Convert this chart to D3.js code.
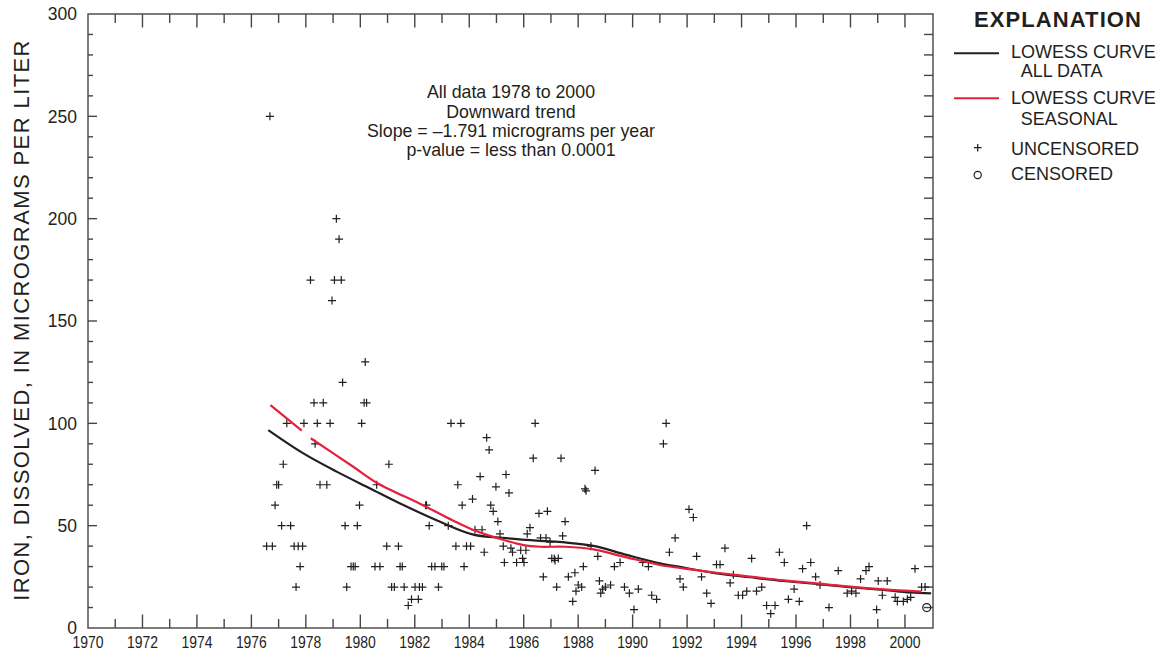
<!DOCTYPE html>
<html>
<head>
<meta charset="utf-8">
<script src="https://cdn.jsdelivr.net/npm/d3@7"></script>
<style>
  html, body { margin: 0; padding: 0; background: #fff; }
  svg { display: block; font-family: "Liberation Sans", Arial, Helvetica, sans-serif; }
</style>
</head>
<body>
<svg id="chart" width="1171" height="653"></svg>
<script>
// ---------------- DATA ----------------
const obsYears = [
  1976.56,1976.68,1976.77,1976.87,1976.93,1977.00,1977.11,1977.17,1977.30,1977.44,
  1977.57,1977.64,1977.72,1977.79,1977.88,1977.93,1978.17,1978.30,1978.34,1978.42,
  1978.52,1978.64,1978.77,1978.89,1978.96,1979.05,1979.12,1979.22,1979.30,1979.35,
  1979.44,1979.50,1979.66,1979.74,1979.81,1979.89,1979.97,1980.05,1980.14,1980.18,
  1980.23,1980.54,1980.60,1980.72,1980.97,1981.05,1981.15,1981.25,1981.40,1981.46,
  1981.54,1981.61,1981.76,1981.88,1982.01,1982.13,1982.17,1982.28,1982.40,1982.43,
  1982.53,1982.62,1982.74,1982.87,1982.99,1983.07,1983.23,1983.33,1983.51,1983.58,
  1983.69,1983.74,1983.81,1983.90,1984.05,1984.12,1984.21,1984.40,1984.47,1984.55,
  1984.64,1984.73,1984.79,1984.88,1984.98,1985.05,1985.13,1985.25,1985.29,1985.35,
  1985.46,1985.53,1985.59,1985.74,1985.89,1985.96,1986.01,1986.08,1986.13,1986.23,
  1986.35,1986.42,1986.56,1986.62,1986.72,1986.82,1986.87,1986.97,1987.03,1987.12,
  1987.15,1987.21,1987.27,1987.37,1987.43,1987.52,1987.64,1987.80,1987.88,1987.92,
  1988.00,1988.13,1988.19,1988.25,1988.29,1988.47,1988.62,1988.72,1988.78,1988.83,
  1988.90,1989.00,1989.19,1989.33,1989.54,1989.70,1989.88,1990.05,1990.21,1990.37,
  1990.58,1990.70,1990.88,1991.13,1991.23,1991.35,1991.56,1991.74,1991.86,1992.07,
  1992.23,1992.35,1992.53,1992.72,1992.88,1993.08,1993.21,1993.39,1993.58,1993.70,
  1993.88,1994.04,1994.19,1994.37,1994.55,1994.74,1994.92,1995.07,1995.23,1995.39,
  1995.57,1995.72,1995.93,1996.12,1996.24,1996.39,1996.54,1996.72,1996.88,1997.21,
  1997.55,1997.88,1998.04,1998.20,1998.37,1998.57,1998.68,1998.96,1999.02,1999.17,
  1999.35,1999.64,1999.72,1999.94,2000.09,2000.21,2000.37,2000.61,2000.74
];
const obsIron = [
  40,250,40,60,70,70,50,80,100,50,
  40,20,40,30,40,100,170,110,90,100,
  70,110,70,100,160,170,200,190,170,120,
  50,20,30,30,30,50,60,100,110,130,
  110,30,70,30,40,80,20,20,40,30,
  30,20,11,14,20,14,20,20,60,60,
  50,30,30,20,30,30,50,100,40,70,
  100,60,30,40,40,63,48,74,48,37,
  93,87,60,57,69,52,46,40,32,75,
  66,39,37,32,38,34,32,38,46,49,
  83,100,56,44,25,44,57,42,34,34,
  33,20,34,83,45,52,25,13,27,18,
  21,20,30,68,67,40,77,35,23,17,
  19,20,21,30,32,20,17,9,19,32,
  30,16,14,90,100,37,44,24,20,58,
  54,35,25,17,12,31,31,39,22,26,
  16,16,18,34,18,20,11,7,11,37,
  32,14,19,13,29,50,32,25,21,10,
  28,17,18,17,24,28,30,9,23,16,
  23,15,13,13,14,15,29,20,20
];
const censoredYears = [2000.80];
const censoredIron = [10];

const lowessAllYears = [1976.62,1977.91,1979.13,1980.36,1981.58,1982.93,1984.15,1985.37,1986.6,1987.52,
  1988.56,1989.78,1991.0,1991.92,1993.08,1994.31,1995.53,1996.76,1997.98,1999.21,2000.19,2000.96];
const lowessAllIron = [96.7,85.3,76.4,68.2,60.1,51.9,45.6,43.9,42.6,41.8,
  40.1,35.7,31.6,29.4,26.7,24.8,23.0,21.5,19.9,18.6,17.4,16.9];

// seasonal curve has a break (null) between 1977.85 and 1978.18
const lowessSeasYears = [1976.7,1977.85,null,1978.18,1979.74,1980.6,1982.3,1983.4,1984.15,1985.07,
  1985.99,1986.6,1987.52,1988.56,1989.78,1991.0,1991.92,1993.08,1994.31,1995.53,1996.76,1997.98,1999.21,2000.6];
const lowessSeasIron = [108.9,96.4,null,92.7,78.8,71.0,60.0,52.5,47.9,43.8,
  40.5,39.7,39.7,38.4,34.5,30.8,29.0,27.0,25.1,23.3,21.8,20.2,18.9,17.8];

const yTickLabels = [0,50,100,150,200,250,300];
const xTickLabels = [1970,1972,1974,1976,1978,1980,1982,1984,1986,1988,1990,1992,1994,1996,1998,2000];

const annotationLines = ["All data 1978 to 2000","Downward trend",
  "Slope = \u20131.791 micrograms per year","p-value = less than 0.0001"];
const yTitle = "IRON, DISSOLVED, IN MICROGRAMS PER LITER";

// ---------------- DRAW ----------------
const svg = d3.select("#chart");
const ink = "#231f20", frame = "#454545", red = "#e4203c";
const L = 88, R = 933, T = 14, B = 628;
const x = d3.scaleLinear().domain([1970, 2001.03]).range([L, R]);
const y = d3.scaleLinear().domain([0, 300]).range([B, T]);

const g = svg.append("g");

// frame
g.append("rect").attr("x", L).attr("y", T).attr("width", R - L).attr("height", B - T)
  .attr("fill", "none").attr("stroke", frame).attr("stroke-width", 1.4);

// x ticks (every year, inward, top and bottom)
d3.range(1971, 2001).forEach(yr => {
  const len = yr % 2 === 0 ? 13.5 : 9;
  g.append("line").attr("x1", x(yr)).attr("x2", x(yr)).attr("y1", B).attr("y2", B - len)
    .attr("stroke", frame).attr("stroke-width", 1.4);
  g.append("line").attr("x1", x(yr)).attr("x2", x(yr)).attr("y1", T).attr("y2", T + len)
    .attr("stroke", frame).attr("stroke-width", 1.4);
});
// y ticks every 10
d3.range(10, 300, 10).forEach(v => {
  const len = v % 50 === 0 ? 9 : 5;
  g.append("line").attr("x1", L).attr("x2", L + len).attr("y1", y(v)).attr("y2", y(v))
    .attr("stroke", frame).attr("stroke-width", 1.4);
  g.append("line").attr("x1", R).attr("x2", R - 9).attr("y1", y(v)).attr("y2", y(v))
    .attr("stroke", frame).attr("stroke-width", 1.4);
});

// tick labels
g.selectAll(".ylab").data(yTickLabels).enter().append("text")
  .attr("x", 77).attr("y", d => y(d)).attr("dy", "0.36em")
  .attr("text-anchor", "end").attr("font-size", 17.5).attr("fill", ink).text(d => d);
g.selectAll(".xlab").data(xTickLabels).enter().append("text")
  .attr("x", d => x(d)).attr("y", 648)
  .attr("text-anchor", "middle").attr("font-size", 16.5).attr("fill", ink)
  .attr("textLength", 31).attr("lengthAdjust", "spacingAndGlyphs").text(d => d);

// y title
g.append("text").attr("transform", "translate(28.5," + 320 + ") rotate(-90)")
  .attr("text-anchor", "middle").attr("font-size", 22).attr("letter-spacing", 1.4)
  .attr("fill", ink).text(yTitle);

// annotation
g.selectAll(".ann").data(annotationLines).enter().append("text")
  .attr("x", 511).attr("y", (d, i) => 98.3 + i * 19.35)
  .attr("text-anchor", "middle").attr("font-size", 17.8).attr("fill", ink).text(d => d);

// points (uncensored: +)
const obs = obsYears.map((yr, i) => ({yr, v: obsIron[i]}));
const h = 4;
g.append("path")
  .attr("d", obs.map(d => `M${x(d.yr) - h},${y(d.v)}h${2 * h}M${x(d.yr)},${y(d.v) - h}v${2 * h}`).join(""))
  .attr("stroke", ink).attr("stroke-width", 1.2).attr("fill", "none");

// censored
const cen = censoredYears.map((yr, i) => ({yr, v: censoredIron[i]}));
g.selectAll(".cen").data(cen).enter().append("circle")
  .attr("cx", d => x(d.yr)).attr("cy", d => y(d.v)).attr("r", 4)
  .attr("fill", "none").attr("stroke", ink).attr("stroke-width", 1.3);

// lowess curves
const lineGen = d3.line().defined(d => d[0] !== null)
  .x(d => x(d[0])).y(d => y(d[1])).curve(d3.curveCatmullRom.alpha(0.5));
g.append("path").attr("d", lineGen(lowessAllYears.map((yr, i) => [yr, lowessAllIron[i]])))
  .attr("fill", "none").attr("stroke", ink).attr("stroke-width", 2.2);
g.append("path").attr("d", lineGen(lowessSeasYears.map((yr, i) => [yr, lowessSeasIron[i]])))
  .attr("fill", "none").attr("stroke", red).attr("stroke-width", 2.2);

// legend
const lg = svg.append("g");
lg.append("text").attr("x", 1058).attr("y", 27.3).attr("text-anchor", "middle")
  .attr("font-size", 22).attr("font-weight", "bold").attr("letter-spacing", 1.1)
  .attr("fill", ink).text("EXPLANATION");
lg.append("line").attr("x1", 954).attr("x2", 999).attr("y1", 53.3).attr("y2", 53.3)
  .attr("stroke", ink).attr("stroke-width", 2);
lg.append("line").attr("x1", 954).attr("x2", 999).attr("y1", 98.3).attr("y2", 98.3)
  .attr("stroke", red).attr("stroke-width", 2);
const legTexts = [
  {t: "LOWESS CURVE", x: 1011, y: 57.5},
  {t: "ALL DATA", x: 1020.7, y: 77},
  {t: "LOWESS CURVE", x: 1011, y: 104},
  {t: "SEASONAL", x: 1020.7, y: 125},
  {t: "UNCENSORED", x: 1011, y: 155},
  {t: "CENSORED", x: 1011, y: 180}
];
lg.selectAll(".lt").data(legTexts).enter().append("text")
  .attr("x", d => d.x).attr("y", d => d.y).attr("font-size", 18).attr("fill", ink).text(d => d.t);
lg.append("path").attr("d", `M${977.7 - 3.8},147.7h7.6M977.7,${147.7 - 3.8}v7.6`)
  .attr("stroke", ink).attr("stroke-width", 1.25);
lg.append("circle").attr("cx", 977.7).attr("cy", 175).attr("r", 3.6)
  .attr("fill", "none").attr("stroke", ink).attr("stroke-width", 1.2);
</script>
</body>
</html>
